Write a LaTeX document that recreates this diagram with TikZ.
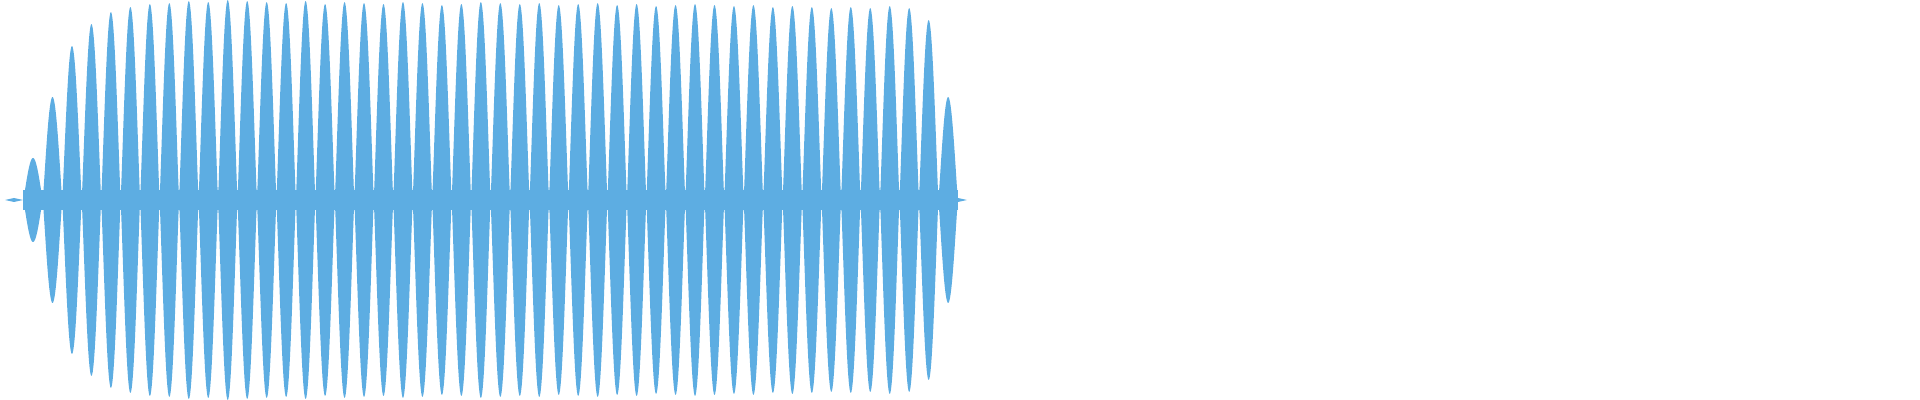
\documentclass[tikz,border=0pt]{standalone}
\definecolor{wavecol}{RGB}{93,173,226}
\begin{document}
\begin{tikzpicture}[x=0.5pt,y=0.5pt,wave/.style={fill=wavecol}]
\useasboundingbox (0,-200) rectangle (1920,200);
% baseline band and tails
\fill[wave] (5,0) -- (14,2) -- (23,0) -- (14,-2) -- cycle;
\fill[wave] (23,-10) rectangle (958,10);
\fill[wave] (958,-2) -- (967,0) -- (958,2) -- cycle;
\foreach \k/\A in {1/42,2/103,3/154,4/176,5/188,6/193,7/196,8/197,9/199,10/198,11/200,12/199,13/198,14/197,15/199,16/196,17/198,18/197,19/196,20/198,21/197,22/195,23/196,24/198,25/197,26/196,27/197,28/195,29/196,30/197,31/195,32/196,33/194,34/195,35/196,36/195,37/194,38/195,39/193,40/194,41/193,42/192,43/193,44/192,45/194,46/192,47/180,48/103}{
  \pgfmathsetmacro{\xs}{23.3+(\k-1)*19.47}
  \fill[wave] plot[domain=0:1,samples=31] ({\xs+\x*19.47},{\A*abs(sin(180*\x))^1.1})
    -- plot[domain=1:0,samples=31] ({\xs+\x*19.47},{-\A*abs(sin(180*\x))^1.1}) -- cycle;
}
\end{tikzpicture}
\end{document}
